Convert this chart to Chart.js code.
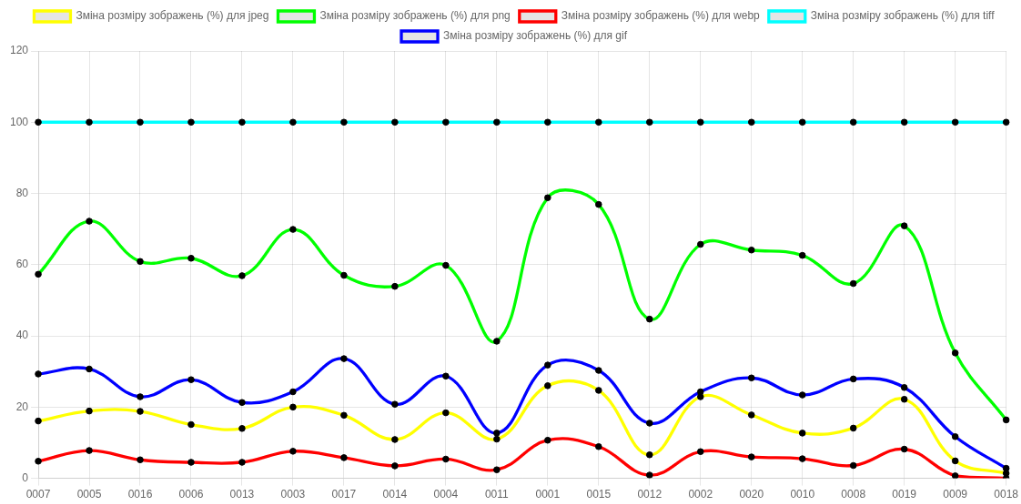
<!DOCTYPE html>
<html>
<head>
<meta charset="utf-8">
<script src="https://cdn.jsdelivr.net/npm/chart.js@4/dist/chart.umd.min.js"></script>
<style>
html,body{margin:0;padding:0;background:#fff;overflow:hidden;}
#wrap{width:1122px;height:554px;transform:scale(0.91);transform-origin:0 0;}
</style>
</head>
<body>
<div id="wrap"><canvas id="c"></canvas></div>
<script>
const categories = ["0007","0005","0016","0006","0013","0003","0017","0014","0004","0011","0001","0015","0012","0002","0020","0010","0008","0019","0009","0018"];
const jpegValues = [16.1,18.9,18.8,15.1,14.0,20.0,17.7,10.9,18.4,11.0,26.0,24.7,6.6,22.9,17.8,12.7,14.1,22.2,4.9,1.4];
const pngValues  = [57.3,72.2,60.9,61.8,56.9,69.9,57.0,53.9,59.8,38.5,78.8,76.9,44.7,65.7,64.1,62.6,54.7,70.9,35.2,16.4];
const webpValues = [4.8,7.8,5.2,4.5,4.5,7.6,5.8,3.5,5.4,2.4,10.7,8.9,0.9,7.5,6.0,5.5,3.6,8.2,0.7,0.0];
const tiffValues = [100,100,100,100,100,100,100,100,100,100,100,100,100,100,100,100,100,100,100,100];
const gifValues  = [29.3,30.7,22.9,27.7,21.3,24.3,33.6,20.8,28.7,12.7,31.8,30.3,15.5,24.3,28.2,23.4,27.9,25.5,11.7,2.8];
const seriesLabels = [
  "Зміна розміру зображень (%) для jpeg",
  "Зміна розміру зображень (%) для png",
  "Зміна розміру зображень (%) для webp",
  "Зміна розміру зображень (%) для tiff",
  "Зміна розміру зображень (%) для gif"
];
const seriesColors = ["#ffff00","#00ff00","#ff0000","#00ffff","#0000ff"];
const seriesData = [jpegValues, pngValues, webpValues, tiffValues, gifValues];

const datasets = seriesData.map((d,i)=>({
  label: seriesLabels[i],
  data: d,
  borderColor: seriesColors[i],
  backgroundColor: 'rgba(0,0,0,0.1)',
  borderWidth: 3.3,
  pointRadius: 3.3,
  pointBackgroundColor: '#000',
  pointBorderColor: '#000',
  pointBorderWidth: 1,
  tension: 0.4,
  fill: false
}));

new Chart(document.getElementById('c'), {
  type: 'line',
  data: { labels: categories, datasets: datasets },
  options: {
    responsive: true,
    maintainAspectRatio: false,
    animation: false,
    layout: { padding: { left: 8, top: 2 } },
    plugins: {
      legend: {
        labels: { font: { size: 12 }, color: '#666', boxWidth: 40, boxHeight: 12 }
      },
      tooltip: { enabled: false }
    },
    scales: {
      x: { ticks: { color: '#666', font: { size: 12 }, maxRotation: 0 } },
      y: { min: 0, max: 120, ticks: { stepSize: 20, color: '#666', font: { size: 12 } } }
    }
  }
});
</script>
</body>
</html>
